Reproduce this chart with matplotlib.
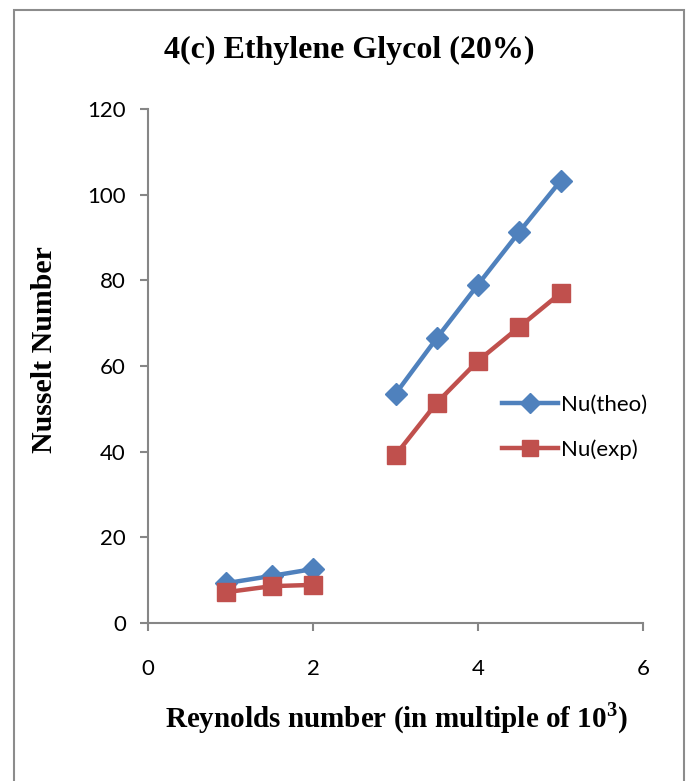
import numpy as np
import matplotlib
matplotlib.use("Agg")
import matplotlib.pyplot as plt
from matplotlib.patches import Rectangle

plt.rcParams["mathtext.fontset"] = "custom"
plt.rcParams["mathtext.rm"] = "Liberation Serif:bold"
plt.rcParams["mathtext.bf"] = "Liberation Serif:bold"

# Data
reynolds = [0.95, 1.5, 2.0, 2.5, 3.0, 3.5, 4.0, 4.5, 5.0]
nu_theo = [9.3, 11.0, 12.6, np.nan, 53.5, 66.5, 79.0, 91.3, 103.2]
nu_exp = [7.2, 8.6, 8.9, np.nan, 39.2, 51.4, 61.2, 69.1, 77.0]
series_labels = ["Nu(theo)", "Nu(exp)"]
title = "4(c) Ethylene Glycol (20%)"
xlabel = r"Reynolds number (in multiple of 10$^{\mathrm{3}}$)"
ylabel = "Nusselt Number"
xticks = [0, 2, 4, 6]
yticks = [0, 20, 40, 60, 80, 100, 120]

W, H = 689, 781
fig = plt.figure(figsize=(W / 100, H / 100), dpi=100)
ax = fig.add_axes([148 / W, 1 - 623 / H, (643 - 148) / W, (623 - 109) / H])

blue = "#4F81BD"
red = "#C0504D"
ax.plot(reynolds, nu_theo, color=blue, lw=3.2, marker="D", ms=11.5,
        label=series_labels[0], zorder=3)
ax.plot(reynolds, nu_exp, color=red, lw=3.2, marker="s", ms=13.5,
        label=series_labels[1], zorder=3)

ax.set_xlim(0, 6)
ax.set_ylim(0, 120)
ax.set_xticks(xticks)
ax.set_yticks(yticks)
for s in ["top", "right"]:
    ax.spines[s].set_visible(False)
axis_col = "#868686"
for s in ["left", "bottom"]:
    ax.spines[s].set_color(axis_col)
    ax.spines[s].set_linewidth(1.5)
ax.tick_params(axis="both", color=axis_col, width=1.5, length=6,
               labelsize=16, labelcolor="black")
ax.tick_params(axis="x", pad=20)
ax.tick_params(axis="y", pad=10)
for lab in ax.get_xticklabels() + ax.get_yticklabels():
    lab.set_family("Lato")

serif = "Liberation Serif"
fig.text((14 + 684) / 2 / W, 1 - 50 / H, title, ha="center", va="center",
         fontsize=23, fontweight="bold", family=serif)
fig.text(396 / W, 1 - 718 / H, xlabel, ha="center", va="center",
         fontsize=21, fontweight="bold", family=serif)
fig.text(45 / W, 1 - 350 / H, ylabel, ha="center", va="center",
         rotation=90, fontsize=21.5, fontweight="bold", family=serif)

leg = ax.legend(loc="center left", bbox_to_anchor=((502 - 148) / 495, (623 - 427) / 514),
                frameon=False, fontsize=16, handlelength=2.5, handletextpad=0.15,
                labelspacing=1.1, borderpad=0, borderaxespad=0, markerscale=0.85)
for t in leg.get_texts():
    t.set_family("Lato")

fig.patches.append(Rectangle((14 / W, -0.05), (684 - 14) / W, 1 - 10 / H + 0.05,
                             transform=fig.transFigure, fill=False,
                             edgecolor="#8C8C8C", lw=1.5))

fig.savefig("out.png", dpi=100)
